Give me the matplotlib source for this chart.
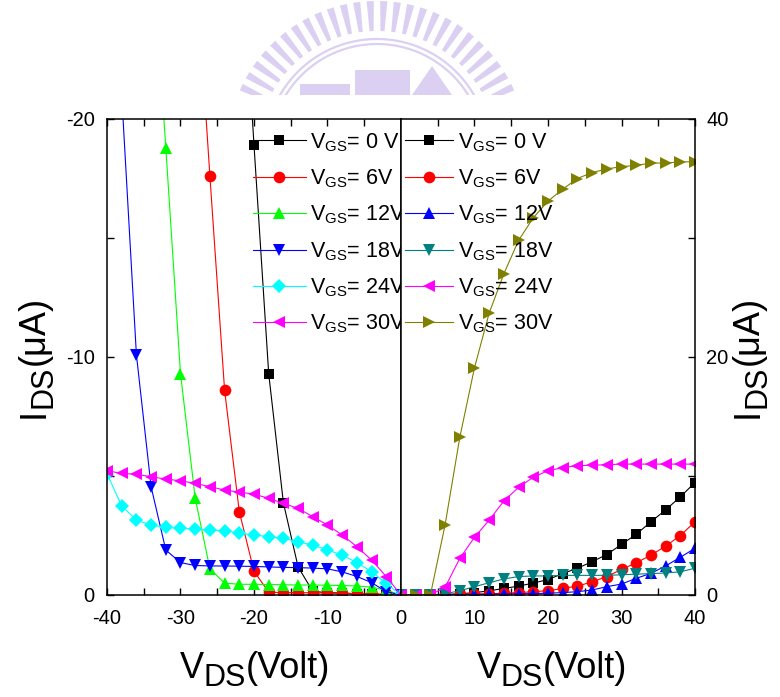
import numpy as np
import matplotlib
matplotlib.use("Agg")
import matplotlib.pyplot as plt
from matplotlib import font_manager
from matplotlib.ticker import FixedLocator

_names = {f.name for f in font_manager.fontManager.ttflist}
HAS_NARROW = 'Liberation Sans Narrow' in _names

plt.rcParams['font.family'] = ['Liberation Sans', 'DejaVu Sans']
plt.rcParams['axes.unicode_minus'] = False
plt.rcParams['mathtext.fontset'] = 'custom'
NARROW = ['Liberation Sans Narrow', 'Liberation Sans', 'DejaVu Sans'] if HAS_NARROW else ['Liberation Sans', 'DejaVu Sans']
plt.rcParams['mathtext.rm'] = NARROW[0]
plt.rcParams['mathtext.it'] = NARROW[0]

# ---------------- data ----------------
vds_left = [-40, -38, -36, -34, -32, -30, -28, -26, -24, -22, -20,
            -18, -16, -14, -12, -10, -8, -6, -4, -2, 0]
ids_left_0 = [np.nan, np.nan, np.nan, np.nan, np.nan, np.nan, np.nan, np.nan, np.nan, -29.0, -18.9,
              -9.3, -3.87, -1.18, -0.15, -0.1, -0.08, -0.05, -0.03, -0.01, 0.0]
ids_left_6 = [np.nan, np.nan, np.nan, np.nan, np.nan, np.nan, -27.0, -17.6, -8.6, -3.5, -1.0,
              -0.12, -0.1, -0.1, -0.09, -0.08, -0.07, -0.06, -0.05, -0.03, 0.0]
ids_left_12 = [np.nan, np.nan, np.nan, -28.0, -18.8, -9.3, -4.07, -1.1, -0.5, -0.45, -0.45,
               -0.44, -0.43, -0.42, -0.42, -0.41, -0.4, -0.38, -0.33, -0.2, 0.0]
ids_left_18 = [np.nan, -21.0, -10.1, -4.55, -1.89, -1.36, -1.24, -1.22, -1.22, -1.21, -1.2,
               -1.18, -1.16, -1.15, -1.13, -1.1, -0.97, -0.78, -0.52, -0.14, 0.0]
ids_left_24 = [-5.1, -3.74, -3.15, -2.94, -2.84, -2.8, -2.77, -2.73, -2.7, -2.6, -2.52,
               -2.45, -2.38, -2.24, -2.1, -1.89, -1.68, -1.36, -0.98, -0.49, 0.0]
ids_left_30 = [-5.22, -5.11, -5.07, -4.97, -4.87, -4.8, -4.69, -4.55, -4.41, -4.32, -4.24,
               -4.06, -3.85, -3.64, -3.29, -2.94, -2.52, -2.03, -1.47, -0.77, 0.0]

vds_right = [0, 2, 4, 6, 8, 10, 12, 14, 16, 18, 20,
             22, 24, 26, 28, 30, 32, 34, 36, 38, 40]
ids_right_0 = [0, 0, 0, 0.05, 0.1, 0.2, 0.35, 0.55, 0.75, 1.0, 1.3,
               1.8, 2.25, 2.8, 3.4, 4.25, 5.1, 6.15, 7.15, 8.25, 9.45]
ids_right_6 = [0, 0, 0, 0.02, 0.05, 0.08, 0.1, 0.15, 0.2, 0.28, 0.36,
               0.55, 0.75, 1.1, 1.55, 2.15, 2.7, 3.35, 4.1, 5.0, 6.15]
ids_right_12 = [0, 0, 0, 0.02, 0.03, 0.05, 0.06, 0.08, 0.1, 0.12, 0.15,
                0.2, 0.28, 0.42, 0.7, 0.92, 1.4, 1.82, 2.44, 3.17, 3.92]
ids_right_18 = [0, 0, 0, 0.1, 0.36, 0.7, 1.03, 1.35, 1.55, 1.6, 1.6,
                1.65, 1.65, 1.65, 1.65, 1.7, 1.75, 1.8, 1.85, 1.95, 2.25]
ids_right_24 = [0, 0, 0, 0.65, 3.08, 4.85, 6.3, 7.9, 9.05, 9.9, 10.45,
                10.7, 10.87, 10.9, 10.95, 11.0, 11.0, 11.0, 11.0, 11.0, 11.0]
ids_right_30 = [0, 0, 0, 5.9, 13.25, 19.1, 23.7, 27.0, 29.8, 31.7, 33.1,
                34.1, 35.0, 35.5, 35.8, 36.0, 36.1, 36.3, 36.3, 36.4, 36.4]

labels = [r"$\mathregular{V_{GS}}$= 0 V", r"$\mathregular{V_{GS}}$= 6V",
          r"$\mathregular{V_{GS}}$= 12V", r"$\mathregular{V_{GS}}$= 18V",
          r"$\mathregular{V_{GS}}$= 24V", r"$\mathregular{V_{GS}}$= 30V"]

left_series = [ids_left_0, ids_left_6, ids_left_12, ids_left_18, ids_left_24, ids_left_30]
left_colors = ['#000000', '#FF0000', '#00FF00', '#0000FF', '#00FFFF', '#FF00FF']
left_markers = ['s', 'o', '^', 'v', 'D', '<']

right_series = [ids_right_0, ids_right_6, ids_right_12, ids_right_18, ids_right_24, ids_right_30]
right_colors = ['#000000', '#FF0000', '#0000FF', '#008080', '#FF00FF', '#808000']
right_markers = ['s', 'o', '^', 'v', '<', '>']

msize = {'s': 7.5, 'o': 8.4, '^': 9.0, 'v': 9.0, 'D': 7.2, '<': 9.0, '>': 9.0}

W, H = 780, 697
fig = plt.figure(figsize=(W / 100, H / 100), dpi=100)

# ---------------- watermark ----------------
bg = fig.add_axes([0, 0, 1, 1], zorder=-5)
bg.set_xlim(0, W)
bg.set_ylim(H, 0)
bg.axis('off')
wm = '#DBD0F2'
cx, cy = 377, 151
r0, r1 = 120, 150
for ang in np.linspace(np.radians(20), np.radians(160), 28):
    d = np.array([np.cos(ang), -np.sin(ang)])
    n = np.array([np.sin(ang), np.cos(ang)])
    p0 = np.array([cx, cy]) + r0 * d
    p1 = np.array([cx, cy]) + r1 * d
    w0, w1 = 2.0, 3.6
    quad = np.array([p0 - w0 * n, p1 - w1 * n, p1 + w1 * n, p0 + w0 * n])
    bg.fill(quad[:, 0], quad[:, 1], color=wm, lw=0)
th = np.linspace(np.radians(15), np.radians(165), 200)
for rr in (112, 107):
    bg.plot(cx + rr * np.cos(th), cy - rr * np.sin(th), color=wm, lw=1.6)
bg.fill([300, 350, 350, 300], [95, 95, 84, 84], color=wm, lw=0)
bg.fill([355, 410, 410, 355], [95, 95, 70, 70], color=wm, lw=0)
bg.fill([412, 452, 432], [95, 95, 66], color=wm, lw=0)
bg.fill([0, W, W, 0], [95, 95, 130, 130], color='white', lw=0, zorder=3)

# ---------------- axes ----------------
x0, y0, aw, ah = 107, 102, 294, 476
ax1 = fig.add_axes([x0 / W, y0 / H, aw / W, ah / H])
ax2 = fig.add_axes([(x0 + aw) / W, y0 / H, aw / W, ah / H])

for ys, c, m, lab in zip(left_series, left_colors, left_markers, labels):
    ax1.plot(vds_left, ys, color=c, marker=m, markersize=msize[m],
             lw=0.8, label=lab, markeredgewidth=0)
for ys, c, m, lab in zip(right_series, right_colors, right_markers, labels):
    ax2.plot(vds_right, ys, color=c, marker=m, markersize=msize[m],
             lw=0.8, label=lab, markeredgewidth=0)

ax1.set_xlim(-40, 0)
ax1.set_ylim(0, -20)
ax2.set_xlim(0, 40)
ax2.set_ylim(0, 40)

tick_fs = 16.5 if HAS_NARROW else 14.5
ax1.xaxis.set_major_locator(FixedLocator([-40, -30, -20, -10, 0]))
ax1.xaxis.set_minor_locator(FixedLocator([-35, -25, -15, -5]))
ax1.yaxis.set_major_locator(FixedLocator([0, -10, -20]))
ax1.yaxis.set_minor_locator(FixedLocator([-5, -15]))

ax2.xaxis.set_major_locator(FixedLocator([10, 20, 30, 40]))
ax2.xaxis.set_minor_locator(FixedLocator([5, 15, 25, 35]))
ax2.yaxis.set_major_locator(FixedLocator([0, 20, 40]))
ax2.yaxis.set_minor_locator(FixedLocator([10, 30]))
ax2.yaxis.tick_right()

for ax in (ax1, ax2):
    for s in ax.spines.values():
        s.set_linewidth(1.1)
    ax.tick_params(which='both', direction='in', length=5, width=1.0,
                   labelsize=tick_fs)
    ax.tick_params(axis='x', pad=10)
    ax.tick_params(axis='y', pad=9)
ax1.tick_params(which='both', top=True, bottom=True, left=True, right=False)
ax2.tick_params(which='both', top=True, bottom=True, left=False, right=True,
                labelleft=False, labelright=True)
ax2.tick_params(axis='y', pad=8)
for ax in (ax1, ax2):
    for lbl in ax.get_xticklabels() + ax.get_yticklabels():
        lbl.set_family(NARROW)

leg_fs = 17 if HAS_NARROW else 15.5
for ax, x_anchor, hl in ((ax1, 253, 2.45), (ax2, 405, 2.25)):
    ax.legend(loc='upper left', bbox_to_anchor=(x_anchor / W, 1 - 131 / H),
              bbox_transform=fig.transFigure, frameon=False,
              handlelength=hl, handletextpad=0.2, labelspacing=0.64,
              borderpad=0, borderaxespad=0, numpoints=1,
              prop={'family': NARROW, 'size': leg_fs})

# ---------------- compound axis labels ----------------
fig.canvas.draw()
renderer = fig.canvas.get_renderer()


def compound_label(parts, center, base):
    texts = []
    for s, fs, drop in parts:
        t = fig.text(0, 0, s, fontsize=fs, ha='left', va='baseline',
                     rotation_mode='anchor')
        texts.append((t, drop))
    advs = [t.get_window_extent(renderer).width for t, _ in texts]
    pos = center - sum(advs) / 2.0
    for (t, drop), a in zip(texts, advs):
        t.set_position((pos / W, (H - base - drop) / H))
        pos += a


def compound_label_v(parts, center_y, base_x):
    texts = []
    for s, fs, drop in parts:
        t = fig.text(0, 0, s, fontsize=fs, rotation=90, ha='left',
                     va='baseline', rotation_mode='anchor')
        texts.append((t, drop))
    advs = [t.get_window_extent(renderer).height for t, _ in texts]
    pos = center_y + sum(advs) / 2.0
    for (t, drop), a in zip(texts, advs):
        t.set_position(((base_x + drop) / W, (H - pos) / H))
        pos -= a


xparts = [("V", 26, 0), ("DS", 22, 8), ("(Volt)", 26, 0)]
compound_label(xparts, 255, 678)
compound_label(xparts, 552, 678)

yparts = [("I", 26, 0), ("DS", 22, 8), ("(\u03bcA)", 26, 0)]
compound_label_v(yparts, 357, 44)
compound_label_v(yparts, 357, 758)

fig.savefig("out.png", dpi=100)
